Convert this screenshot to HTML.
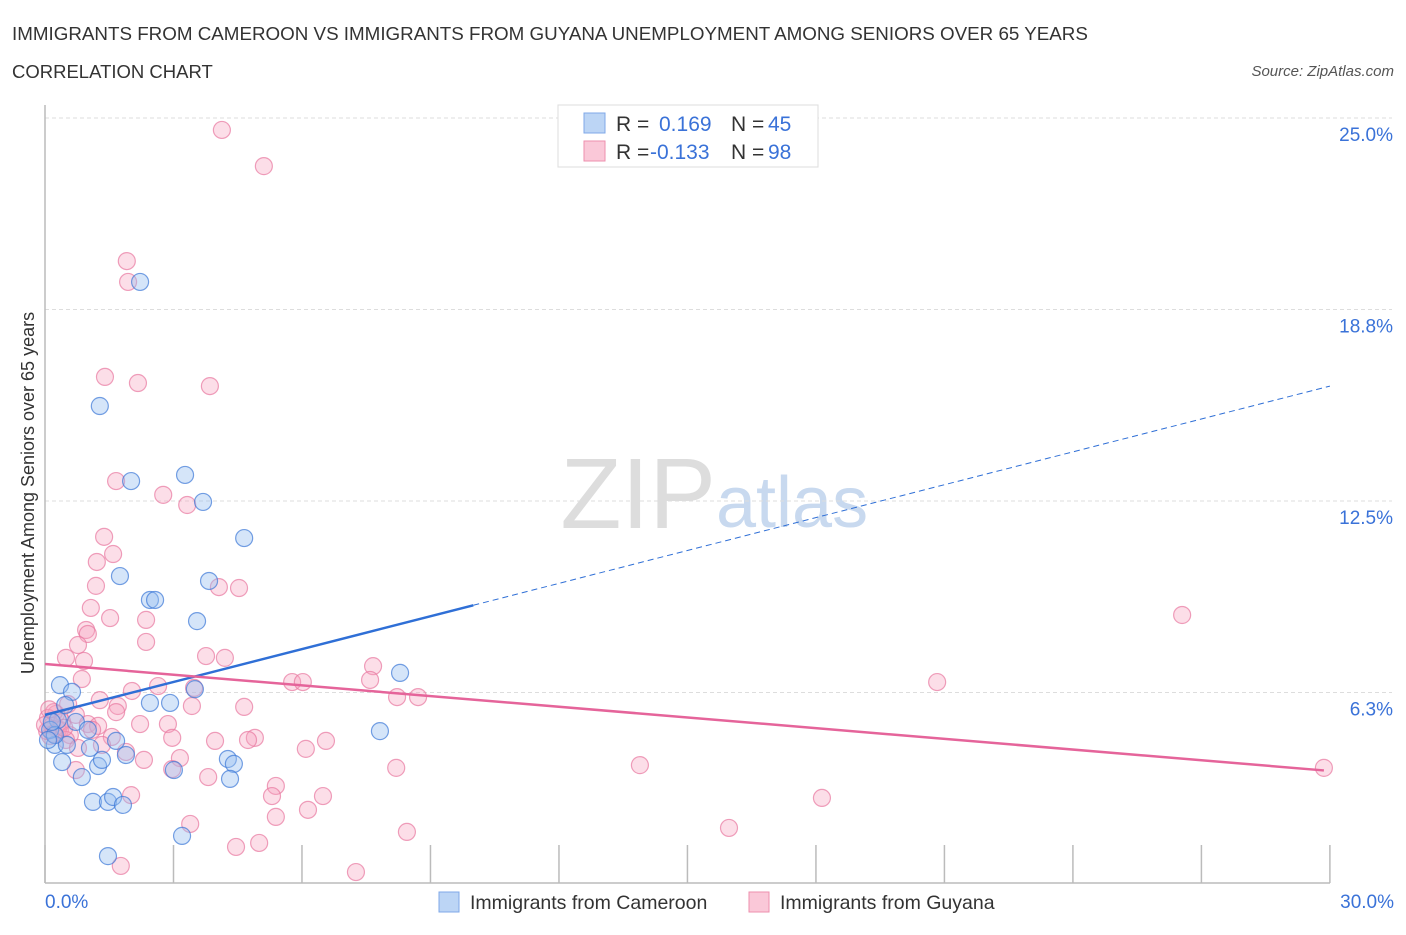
<!DOCTYPE html>
<html><head><meta charset="utf-8"><style>
body{margin:0;background:#fff;font-family:"Liberation Sans",sans-serif;}
svg text{font-family:"Liberation Sans",sans-serif;}
</style></head><body>
<svg id="chart" width="1406" height="930" xmlns="http://www.w3.org/2000/svg">
<text x="12" y="40" font-size="18.8" fill="#333">IMMIGRANTS FROM CAMEROON VS IMMIGRANTS FROM GUYANA UNEMPLOYMENT AMONG SENIORS OVER 65 YEARS</text>
<text x="12" y="78" font-size="18.5" fill="#333">CORRELATION CHART</text>
<text x="1394" y="76" font-size="15" fill="#555" font-style="italic" text-anchor="end">Source: ZipAtlas.com</text>
<text x="716" y="528" font-size="100" fill="#ddd" font-family="Liberation Serif" text-anchor="end">ZIP</text>
<text x="716" y="527" font-size="72" fill="#c8d9ef">atlas</text>
<g id="grid"></g><g id="axes"></g><g id="pts"></g><g id="trend"></g>
<text transform="translate(34,493) rotate(-90)" font-size="18" fill="#333" text-anchor="middle">Unemployment Among Seniors over 65 years</text>
<text x="45" y="908" font-size="19" fill="#3a72d8">0.0%</text>
<text x="1394" y="908" font-size="19" fill="#3a72d8" text-anchor="end">30.0%</text>
<g>
<rect x="558" y="105" width="260" height="62" fill="#fff" stroke="#ddd"/>
<rect x="584" y="113" width="21" height="20" fill="#bcd5f5" stroke="#7fa8e8"/>
<rect x="584" y="141" width="21" height="20" fill="#fac8d8" stroke="#ee8fae"/>
<text x="616" y="131" font-size="21" fill="#333">R =</text><text x="659" y="131" font-size="21" fill="#3a72d8">0.169</text>
<text x="731" y="131" font-size="21" fill="#333">N =</text><text x="768" y="131" font-size="21" fill="#3a72d8">45</text>
<text x="616" y="159" font-size="21" fill="#333">R =</text><text x="650" y="159" font-size="21" fill="#3a72d8">-0.133</text>
<text x="731" y="159" font-size="21" fill="#333">N =</text><text x="768" y="159" font-size="21" fill="#3a72d8">98</text>
</g>
<g><rect x="439" y="892" width="20" height="20" fill="#bcd5f5" stroke="#7fa8e8"/><text x="470" y="909" font-size="19.5" fill="#333">Immigrants from Cameroon</text></g>
<g><rect x="749" y="892" width="20" height="20" fill="#fac8d8" stroke="#ee8fae"/><text x="780" y="909" font-size="19.5" fill="#333">Immigrants from Guyana</text></g>
</svg>
<script>
const yTicks=[25.0,18.75,12.5,6.25];
const yTickLabels=["25.0%","18.8%","12.5%","6.3%"];
const xTicks=[0,3,6,9,12,15,18,21,24,27,30];
const blueX=[2.22,1.28,3.27,2.01,3.69,4.65,1.75,3.83,2.45,2.57,3.55,8.29,0.35,0.63,2.92,2.45,3.50,0.30,0.72,1.00,1.66,0.23,0.51,1.24,0.86,0.40,1.89,1.33,4.27,4.41,4.32,3.01,7.82,1.12,1.47,1.59,1.82,3.20,1.47,0.12,0.23,0.07,1.05,0.47,0.16];
const blueY=[19.65,15.60,13.35,13.15,12.47,11.29,10.05,9.89,9.27,9.27,8.58,6.89,6.49,6.27,5.91,5.91,6.36,5.35,5.29,5.03,4.67,4.54,4.54,3.85,3.49,3.98,4.21,4.05,4.08,3.92,3.43,3.72,4.99,2.68,2.68,2.84,2.58,1.57,0.91,5.03,4.86,4.70,4.44,5.84,5.29];
const pinkX=[4.13,5.11,1.91,1.94,1.40,2.17,3.85,1.66,2.76,3.32,1.38,1.59,1.21,1.19,4.06,4.53,1.07,1.52,2.36,26.55,0.96,1.00,2.36,0.77,3.76,4.20,0.49,0.91,7.66,7.59,0.86,5.77,6.02,20.83,2.64,2.03,8.22,8.71,3.48,0.54,3.43,4.65,1.70,1.66,0.72,0.26,1.00,1.24,2.22,2.87,1.10,1.56,0.35,0.12,2.97,4.90,4.74,3.97,6.56,6.09,1.33,1.89,2.31,3.15,13.89,29.86,0.72,8.20,2.97,3.81,5.39,5.30,6.49,2.01,18.14,6.14,5.39,3.39,15.97,8.45,5.00,4.46,1.77,7.26,0.07,0.16,0.30,0.05,0.21,0.40,0.58,0.00,0.49,0.77,1.28,0.10,0.20,0.45];
const pinkY=[24.61,23.43,20.33,19.65,16.55,16.35,16.25,13.15,12.70,12.37,11.33,10.77,10.51,9.73,9.69,9.66,9.01,8.68,8.62,8.78,8.29,8.16,7.90,7.80,7.44,7.38,7.38,7.28,7.11,6.66,6.69,6.59,6.59,6.59,6.46,6.30,6.10,6.10,6.40,5.87,5.81,5.78,5.81,5.61,5.52,5.55,5.22,5.16,5.22,5.22,5.03,4.80,5.03,4.83,4.77,4.77,4.70,4.67,4.67,4.41,4.54,4.31,4.05,4.11,3.88,3.79,3.72,3.79,3.75,3.49,3.20,2.87,2.87,2.90,2.81,2.42,2.19,1.96,1.83,1.70,1.34,1.21,0.59,0.39,5.42,5.16,5.03,4.99,5.61,5.29,4.86,5.19,4.70,4.44,6.00,5.70,4.90,5.10];
const blueTrend=[5.52,16.25];
const blueSolidEnd=10;
const pinkTrend=[7.18,3.69];
const pinkEnd=29.86;
function sx(v){return 45+v*42.83;}
function sy(v){return 884-v*30.64;}
const NS="http://www.w3.org/2000/svg";
function mk(tag,attrs,parent){const e=document.createElementNS(NS,tag);for(const k in attrs)e.setAttribute(k,attrs[k]);document.getElementById(parent).appendChild(e);return e;}
yTicks.forEach((t,i)=>{
  const l=mk('line',{x1:45,x2:1392,y1:sy(t),y2:sy(t),stroke:'#ddd','stroke-dasharray':'4,3'},'grid');
  
  
  const tx=mk('text',{x:1393,y:sy(t)+23,'font-size':19,fill:'#3a72d8','text-anchor':'end'},'grid');
  tx.textContent=yTickLabels[i];
  
  
});
const ax=mk('line',{x1:45,x2:1330,y1:883,y2:883,stroke:'#bbb','stroke-width':1.5},'axes');


const ay=mk('line',{x1:45,x2:45,y1:105,y2:883,stroke:'#bbb','stroke-width':1.5},'axes');


xTicks.forEach(t=>{
  const l=mk('line',{x1:sx(t),x2:sx(t),y1:845,y2:883,stroke:'#bbb','stroke-width':1.5},'axes');
  
  
});
pinkX.forEach((x,i)=>{
  const c=mk('circle',{cx:sx(x),cy:sy(pinkY[i]),r:8.5,fill:'rgba(246,160,190,0.35)',stroke:'rgba(232,120,160,0.7)','stroke-width':1.2},'pts');
  
  
});
blueX.forEach((x,i)=>{
  const c=mk('circle',{cx:sx(x),cy:sy(blueY[i]),r:8.5,fill:'rgba(150,190,240,0.4)',stroke:'rgba(60,120,215,0.7)','stroke-width':1.2},'pts');
  
  
});
function ty(tr,x){return tr[0]+(tr[1]-tr[0])*x/30;}
const bs=mk('line',{x1:sx(0),y1:sy(ty(blueTrend,0)),x2:sx(blueSolidEnd),y2:sy(ty(blueTrend,blueSolidEnd)),stroke:'#2f6fd6','stroke-width':2.5},'trend');


const bd=mk('line',{x1:sx(blueSolidEnd),y1:sy(ty(blueTrend,blueSolidEnd)),x2:sx(30),y2:sy(ty(blueTrend,30)),stroke:'#2f6fd6','stroke-width':1,'stroke-dasharray':'6,4'},'trend');


const pl=mk('line',{x1:sx(0),y1:sy(ty(pinkTrend,0)),x2:sx(pinkEnd),y2:sy(ty(pinkTrend,pinkEnd)),stroke:'#e5649a','stroke-width':2.5},'trend');


</script>
</body></html>
